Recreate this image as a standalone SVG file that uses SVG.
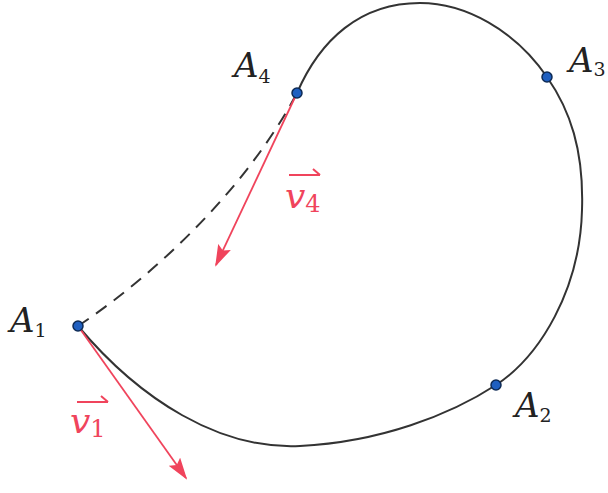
<svg xmlns="http://www.w3.org/2000/svg" width="608" height="493" viewBox="0 0 608 493">
<defs>
<style>
.curve{fill:none;stroke:#333;stroke-width:2}
.dash{fill:none;stroke:#333;stroke-width:2;stroke-dasharray:13 9}
.vec{stroke:#f0445c;stroke-width:1.8;fill:none}
.pt{fill:#1f5fc0;stroke:#0d2a55;stroke-width:1.5}
.lbl{font-family:"DejaVu Serif","Liberation Serif",serif;font-style:italic;font-size:34px;fill:#222}
.sub{font-size:19px;font-style:normal}
.vl{font-family:"DejaVu Serif","Liberation Serif",serif;font-style:italic;font-size:36px;fill:#f0445c}
.vsub{font-size:24px;font-style:normal}
.over{stroke:#f0445c;stroke-width:2;fill:none}
</style>
<marker id="ah" markerWidth="22" markerHeight="14" refX="20" refY="7" orient="auto" markerUnits="userSpaceOnUse" viewBox="0 0 22 14">
<path d="M0,0 L22,7 L0,14 L4,7 Z" fill="#f0445c"/>
</marker>
</defs>
<rect width="608" height="493" fill="#fff"/>
<g id="connectors">
<path class="curve" d="M78,326 C140,400 220,450 300,446 C380,442 450,415 496,385 C540,356 580,290 582,210 C584,150 570,110 547,77 C515,30 465,3 420,3 C360,3 320,40 297,93"/>
<path class="dash" d="M78,326 C140,285 240,200 297,93"/>
<line class="vec" x1="297" y1="93" x2="216" y2="265" marker-end="url(#ah)"/>
<line class="vec" x1="78" y1="326" x2="186" y2="478" marker-end="url(#ah)"/>
</g>
<g id="A1"><circle class="pt" cx="78" cy="326" r="5"/><text class="lbl" x="10" y="332">A<tspan class="sub" dy="5">1</tspan></text></g>
<g id="A2"><circle class="pt" cx="496" cy="385" r="5"/><text class="lbl" x="515" y="417">A<tspan class="sub" dy="5">2</tspan></text></g>
<g id="A3"><circle class="pt" cx="547" cy="77" r="5"/><text class="lbl" x="569" y="72">A<tspan class="sub" dy="4">3</tspan></text></g>
<g id="A4"><circle class="pt" cx="297" cy="93" r="5"/><text class="lbl" x="234" y="77">A<tspan class="sub" dy="6">4</tspan></text></g>
<g id="v4">
<text class="vl" x="285" y="208">v<tspan class="vsub" dy="4">4</tspan></text>
<path class="over" d="M289,175 L320,175 M313,169 L320,175"/>
</g>
<g id="v1">
<text class="vl" x="70" y="433">v<tspan class="vsub" dy="4">1</tspan></text>
<path class="over" d="M77,402 L108,402 M101,396 L108,402"/>
</g>
</svg>
